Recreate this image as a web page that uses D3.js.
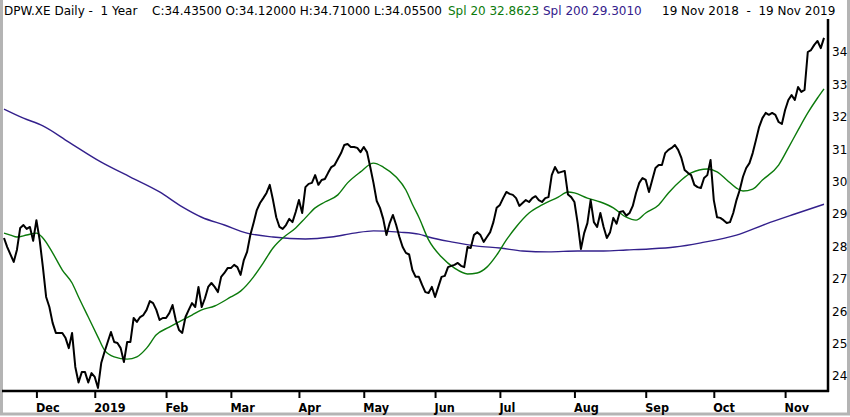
<!DOCTYPE html>
<html>
<head>
<meta charset="utf-8">
<title>DPW.XE Daily - 1 Year</title>
<script src="https://cdn.jsdelivr.net/npm/d3@7"></script>
<style>
    body { margin: 0; background: #fff; }
    svg { display: block; }
</style>
</head>
<body>
<div id="chart"></div>
<script>
// closes: [trading day since 19 Nov 2018, price]
var closeSeries = [
    [0, 28.26], [1, 27.98], [3, 27.52], [4, 27.9], [5, 28.57], [6, 28.66], [7, 28.54], [8, 28.6],
    [9, 28.17], [10, 28.81], [11, 28.2], [12, 27.36], [13, 26.44], [14, 26.13], [15, 25.64], [16, 25.33],
    [18, 25.33], [19, 25.17], [20, 24.86], [21, 25.33], [22, 24.28], [23, 23.8], [24, 24.12], [25, 24.12],
    [26, 23.8], [27, 24.09], [28, 23.97], [29, 23.63], [30, 24.4], [31, 24.74], [33, 25.36], [34, 25.05],
    [35, 25.02], [36, 24.86], [37, 24.43], [38, 25.05], [39, 25.05], [40, 25.79], [41, 25.67], [42, 25.82],
    [43, 25.88], [44, 26.04], [45, 26.31], [46, 26.25], [47, 26.04], [48, 25.73], [49, 25.79], [50, 25.79],
    [51, 25.94], [52, 26.19], [53, 25.73], [54, 25.42], [55, 25.33], [56, 25.82], [57, 26.04], [58, 26.25],
    [59, 26.13], [60, 26.75], [61, 26.13], [62, 26.4], [63, 26.75], [64, 26.87], [65, 26.75], [66, 26.59],
    [67, 27.06], [68, 27.18], [69, 27.33], [70, 27.33], [71, 27.43], [72, 27.36], [73, 27.12], [74, 27.58],
    [75, 27.83], [76, 28.35], [77, 28.72], [78, 29.12], [79, 29.34], [80, 29.49], [81, 29.65], [82, 29.9],
    [83, 29.43], [84, 28.9], [85, 28.6], [86, 28.54], [87, 28.66], [88, 28.85], [89, 28.75], [90, 29.06],
    [91, 29.43], [92, 29.03], [93, 29.83], [94, 29.93], [95, 29.96], [96, 30.2], [97, 29.9], [98, 30.05],
    [99, 30.08], [100, 30.27], [101, 30.45], [102, 30.51], [104, 30.88], [105, 31.13], [106, 31.16], [107, 31.07],
    [108, 31.07], [109, 31.04], [110, 30.91], [111, 31.07], [112, 30.91], [113, 30.45], [114, 29.96], [115, 29.4],
    [116, 29.19], [117, 28.85], [118, 28.35], [119, 28.72], [120, 28.97], [121, 28.66], [122, 28.29], [123, 27.98],
    [124, 27.8], [125, 27.75], [126, 27.27], [127, 27.06], [128, 27.06], [129, 26.81], [130, 26.59], [131, 26.56],
    [132, 26.75], [133, 26.44], [134, 26.75], [135, 27.06], [136, 27.09], [137, 27.36], [138, 27.4], [139, 27.43],
    [140, 27.49], [141, 27.4], [142, 27.36], [143, 27.98], [144, 27.95], [145, 28.35], [146, 28.44], [147, 28.35],
    [148, 28.14], [149, 28.29], [150, 28.44], [151, 28.75], [152, 29.19], [153, 29.28], [154, 29.49], [155, 29.68],
    [156, 29.62], [157, 29.59], [158, 29.49], [159, 29.25], [160, 29.34], [161, 29.43], [162, 29.37], [163, 29.49],
    [164, 29.55], [165, 29.43], [166, 29.37], [167, 29.49], [168, 29.52], [169, 30.2], [170, 30.45], [171, 30.27],
    [172, 30.3], [173, 30.33], [174, 29.6], [175, 29.52], [176, 29.37], [177, 28.72], [178, 27.92], [179, 28.41],
    [180, 28.72], [181, 29.43], [182, 28.75], [183, 28.6], [184, 29.03], [185, 28.6], [186, 28.26], [187, 28.44],
    [188, 28.88], [189, 28.7], [190, 29.06], [191, 29.09], [192, 28.95], [193, 29.03], [194, 29.25], [195, 29.65],
    [196, 29.96], [197, 30.11], [198, 30.05], [199, 29.68], [200, 30.05], [201, 30.42], [202, 30.51], [203, 30.51],
    [204, 30.88], [205, 30.98], [206, 31.04], [207, 31.13], [208, 30.98], [209, 30.73], [210, 30.36], [211, 30.27],
    [212, 30.2], [213, 29.9], [214, 29.83], [215, 29.8], [216, 30.11], [217, 30.2], [218, 30.67], [219, 29.43],
    [220, 28.9], [221, 28.88], [222, 28.81], [223, 28.72], [224, 28.75], [225, 29.03], [226, 29.43], [227, 29.74],
    [228, 30.15], [229, 30.42], [230, 30.57], [231, 30.88], [232, 31.28], [233, 31.69], [234, 31.96], [235, 32.12],
    [236, 32.06], [237, 32.12], [238, 32.06], [239, 31.84], [240, 31.78], [241, 32.21], [242, 32.52], [243, 32.67],
    [244, 32.52], [245, 32.92], [246, 32.77], [247, 32.83], [248, 34.0], [249, 34.06], [250, 34.22], [251, 34.34],
    [252, 34.12], [253, 34.435]
];

// 20 day spline (green)
var spl20Series = [
    [0, 28.41], [2, 28.35], [4, 28.29], [7, 28.35], [10, 28.41], [12, 28.26], [15, 27.8], [18, 27.27],
    [21, 26.87], [23, 26.44], [26, 25.82], [29, 25.2], [31, 24.8], [34, 24.59], [38, 24.52], [41, 24.59],
    [44, 24.86], [47, 25.27], [51, 25.51], [54, 25.67], [58, 25.88], [61, 26.04], [65, 26.16], [70, 26.44],
    [73, 26.62], [77, 27.06], [80, 27.49], [83, 27.95], [86, 28.26], [90, 28.57], [93, 28.88], [96, 29.19],
    [99, 29.37], [103, 29.59], [106, 29.96], [110, 30.3], [114, 30.57], [117, 30.45], [121, 30.14], [124, 29.74],
    [126, 29.3], [128, 28.9], [131, 28.2], [135, 27.67], [139, 27.33], [143, 27.15], [146, 27.18], [149, 27.36],
    [152, 27.73], [155, 28.2], [158, 28.6], [162, 29.03], [166, 29.28], [171, 29.52], [174, 29.68], [176, 29.65],
    [180, 29.49], [184, 29.37], [188, 29.19], [192, 28.9], [195, 28.81], [198, 29.03], [202, 29.28], [205, 29.65],
    [209, 30.05], [212, 30.27], [217, 30.39], [220, 30.3], [223, 30.05], [226, 29.8], [228, 29.71], [231, 29.77],
    [234, 30.05], [239, 30.51], [242, 31.04], [245, 31.59], [248, 32.12], [251, 32.58], [253, 32.8623]
];

// 200 day spline (purple)
var spl200Series = [
    [0, 32.24], [6, 31.96], [12, 31.72], [20, 31.22], [30, 30.6], [39, 30.14], [48, 29.68], [55, 29.22],
    [61, 28.9], [68, 28.66], [75, 28.41], [83, 28.29], [93, 28.23], [101, 28.29], [108, 28.41], [114, 28.48],
    [122, 28.44], [128, 28.38], [131, 28.29], [138, 28.14], [146, 28.01], [153, 27.95], [160, 27.86], [168, 27.83],
    [177, 27.86], [185, 27.86], [192, 27.89], [199, 27.92], [207, 27.98], [215, 28.11], [226, 28.35], [235, 28.69],
    [244, 29.0], [253, 29.301]
];

// first trading day of each month
var monthTickDays = [10, 28, 50, 70, 91, 111, 133, 153, 176, 198, 219, 241];
var monthTickLabels = ['Dec', '2019', 'Feb', 'Mar', 'Apr', 'May', 'Jun', 'Jul', 'Aug', 'Sep', 'Oct', 'Nov'];
var priceTicks = [24, 25, 26, 27, 28, 29, 30, 31, 32, 33, 34];

// extra spaces are kept as no-break spaces so they do not collapse
var headerParts = [
    { text: 'DPW.XE Daily -\u00a0\u00a01 Year', color: '#000000' },
    { text: 'C:34.43500 O:34.12000 H:34.71000 L:34.05500', color: '#000000' },
    { text: 'Spl 20 32.8623', color: '#0b7a0b' },
    { text: 'Spl 200 29.3010', color: '#33208c' },
    { text: '19 Nov 2018\u00a0\u00a0-\u00a0\u00a019 Nov 2019', color: '#000000' }
];
var headerX = [4, 152, 448, 543, 662];

var conf = {
    width: 850,
    height: 417,
    left: 4,
    right: 824,
    axisX: 828,
    top: 19,
    bottom: 391,
    lastDay: 253
};

var svg = d3.select('#chart')
    .append('svg')
    .attr('width', conf.width)
    .attr('height', conf.height);

var x = d3.scaleLinear()
    .domain([0, conf.lastDay])
    .range([conf.left, conf.right]);

var y = d3.scaleLinear()
    .domain([24, 34])
    .range([376, 52]);

// outer grey frame
svg.append('rect')
    .attr('x', 1.5)
    .attr('y', -5)
    .attr('width', 847)
    .attr('height', 419)
    .attr('fill', 'none')
    .attr('stroke', '#b4b4b4')
    .attr('stroke-width', 3);

// header
svg.append('g')
    .selectAll('text')
    .data(headerParts)
    .enter()
    .append('text')
    .attr('x', function (d, i) { return headerX[i]; })
    .attr('y', 15)
    .attr('fill', function (d) { return d.color; })
    .style('font-family', '"DejaVu Sans", Verdana, sans-serif')
    .style('font-size', '12px')
    .text(function (d) { return d.text; });

// lines
var line = d3.line()
    .x(function (d) { return x(d[0]); })
    .y(function (d) { return y(d[1]); });

var smooth = d3.line()
    .curve(d3.curveMonotoneX)
    .x(function (d) { return x(d[0]); })
    .y(function (d) { return y(d[1]); });

svg.append('path')
    .datum(spl200Series)
    .attr('d', smooth)
    .attr('fill', 'none')
    .attr('stroke', '#33208c')
    .attr('stroke-width', 1.4);

svg.append('path')
    .datum(spl20Series)
    .attr('d', smooth)
    .attr('fill', 'none')
    .attr('stroke', '#0b7a0b')
    .attr('stroke-width', 1.4);

svg.append('path')
    .datum(closeSeries)
    .attr('d', line)
    .attr('fill', 'none')
    .attr('stroke', '#000')
    .attr('stroke-width', 2)
    .attr('stroke-linejoin', 'round');

// bottom axis
var xAxis = d3.axisBottom(x)
    .tickValues(monthTickDays)
    .tickSize(7)
    .tickFormat(function (d, i) { return monthTickLabels[i]; });

var gx = svg.append('g')
    .attr('transform', 'translate(0,' + conf.bottom + ')')
    .call(xAxis);
gx.select('.domain').remove();
gx.selectAll('.tick line')
    .attr('stroke', '#000')
    .attr('stroke-width', 2);
gx.selectAll('.tick text')
    .attr('text-anchor', 'start')
    .attr('x', -1)
    .attr('y', 21)
    .attr('dy', 0)
    .attr('fill', '#000')
    .style('font-family', '"Liberation Sans Narrow", "DejaVu Sans Condensed", sans-serif')
    .style('font-weight', 'bold')
    .style('font-size', '12.5px');

svg.append('line')
    .attr('x1', 2)
    .attr('x2', conf.axisX + 1)
    .attr('y1', conf.bottom)
    .attr('y2', conf.bottom)
    .attr('stroke', '#000')
    .attr('stroke-width', 2.5);

// right axis, labels only
var yAxis = d3.axisRight(y)
    .tickValues(priceTicks)
    .tickSize(0)
    .tickPadding(4)
    .tickFormat(d3.format('d'));

var gy = svg.append('g')
    .attr('transform', 'translate(' + conf.axisX + ',0)')
    .call(yAxis);
gy.select('.domain').remove();
gy.selectAll('.tick text')
    .attr('fill', '#000')
    .style('font-family', '"DejaVu Sans", Verdana, sans-serif')
    .style('font-size', '12px');

svg.append('line')
    .attr('x1', conf.axisX)
    .attr('x2', conf.axisX)
    .attr('y1', conf.top)
    .attr('y2', conf.bottom + 1)
    .attr('stroke', '#000')
    .attr('stroke-width', 2.5);
</script>
</body>
</html>
